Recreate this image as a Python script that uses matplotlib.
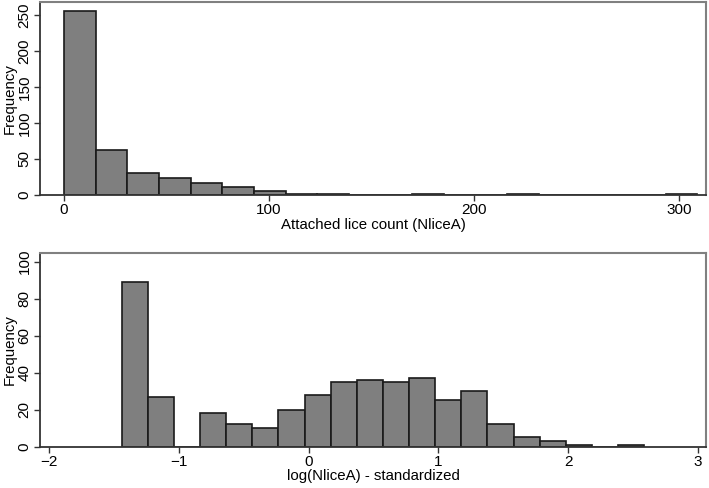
import matplotlib.pyplot as plt
import numpy as np

plt.rcParams['font.family'] = ['Liberation Sans', 'DejaVu Sans']

# top histogram: attached lice count, 20 bins over 0..309
lice_range = (0, 309)
lice_counts = [256, 62, 31, 24, 16, 11, 5, 2, 1, 0, 0, 1, 0, 0, 1, 0, 0, 0, 0, 1]
lice_xticks = [0, 100, 200, 300]
lice_yticks = [0, 50, 100, 150, 200, 250]

# bottom histogram: standardized log count, 20 bins
log_range = (-1.44, 2.586)
log_counts = [89, 27, 0, 18, 12, 10, 20, 28, 35, 36, 35, 37, 25, 30, 12, 5, 3, 1, 0, 1]
log_xticks = [-2, -1, 0, 1, 2, 3]
log_yticks = [0, 20, 40, 60, 80, 100]


def draw_hist(ax, rng, counts, xticks, yticks, xlim, ylim, xlabel, pad):
    edges = np.linspace(rng[0], rng[1], len(counts) + 1)
    ax.bar(edges[:-1], counts, width=np.diff(edges), align='edge',
           color='#7f7f7f', edgecolor='#1a1a1a', linewidth=1.2, zorder=2)
    ax.set_xlim(xlim)
    ax.set_ylim(ylim)
    ax.set_xticks(xticks)
    ax.set_yticks(yticks)
    ax.set_yticklabels([str(t) for t in yticks], rotation=90, va='center')
    ax.tick_params(direction='out', length=4, width=1, color='#333333',
                   labelsize=11, pad=2)
    for side in ['left', 'bottom']:
        ax.spines[side].set_color('#333333')
        ax.spines[side].set_linewidth(1.3)
    for side in ['top', 'right']:
        ax.spines[side].set_color('#808080')
        ax.spines[side].set_linewidth(1.5)
    ax.set_xlabel(xlabel, fontsize=10.8, labelpad=pad)
    ax.set_ylabel('Frequency', fontsize=10.8, labelpad=1)


fig = plt.figure(figsize=(7.09, 4.88), dpi=100)
ax1 = fig.add_axes([40 / 709, 1 - 195 / 488, 666 / 709, 193 / 488])
ax2 = fig.add_axes([40 / 709, 1 - 446.7 / 488, 666 / 709, 193.7 / 488])

draw_hist(ax1, lice_range, lice_counts, lice_xticks, lice_yticks,
          (-11.7, 313.2), (0, 268), 'Attached lice count (NliceA)', 0.5)
draw_hist(ax2, log_range, log_counts, log_xticks, log_yticks,
          (-2.069, 3.062), (0, 104.7), 'log(NliceA) - standardized', 0)

fig.savefig('out.png', dpi=100)
